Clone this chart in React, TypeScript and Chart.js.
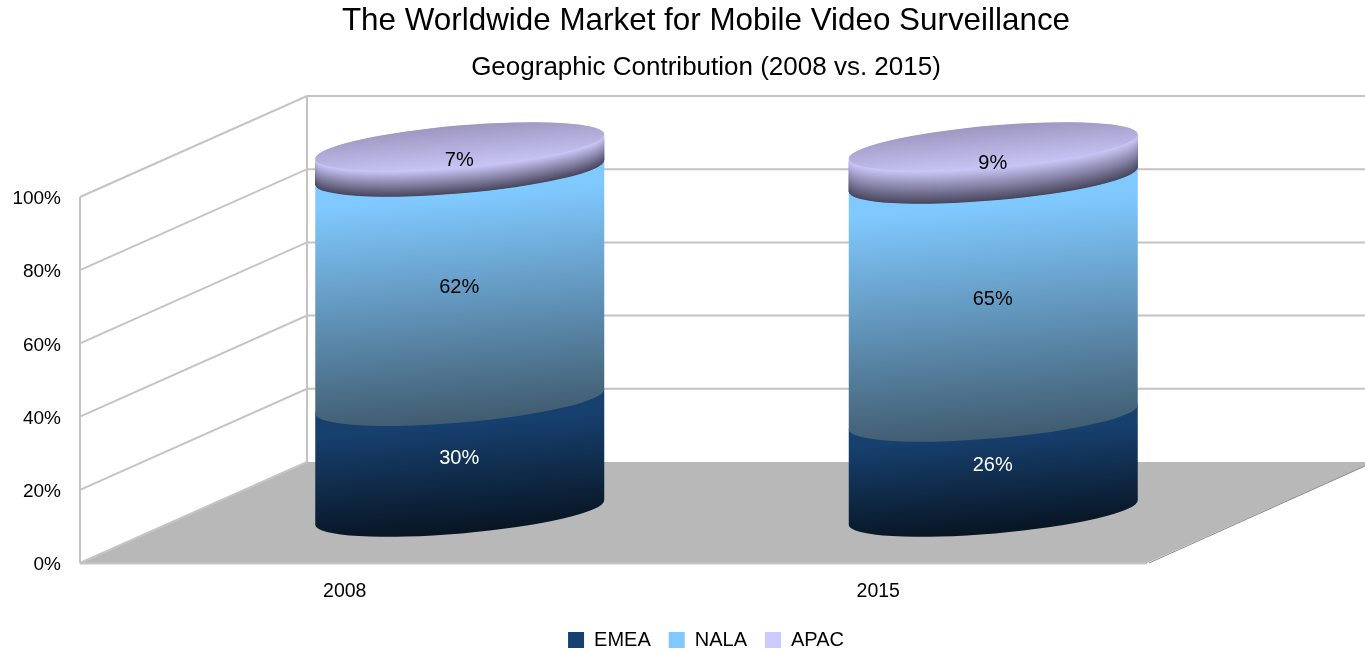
import React, { useEffect, useRef } from "react";
import { Chart, registerables } from "chart.js";

Chart.register(...registerables);

const categories = ["2008", "2015"];
const emea = [30, 26];
const nala = [62, 65];
const apac = [7, 9];
const tickValues = [0, 20, 40, 60, 80, 100];
const seriesNames = ["EMEA", "NALA", "APAC"];
const legendColors = ["#17406f", "#80c8ff", "#cccaff"];
const titleText = "The Worldwide Market for Mobile Video Surveillance";
const subtitleText = "Geographic Contribution (2008 vs. 2015)";

const FONT = "'Liberation Sans', Arial, sans-serif";
const DEPTH_X = 227;
const DEPTH_Y = -101;
const TILT = 0.086;
const RADIUS_MINOR = 21;
const GRID = "#c4c4c4";
const FLOOR = "#b8b8b8";

const segmentStops: [number, string][][] = [
  [[0, "#17406f"], [0.29, "#17406f"], [1, "#07131f"]],
  [[0, "#80c9ff"], [0.17, "#80c9ff"], [1, "#3f596c"]],
];
const capBack = "#9a93bd";
const capFront = [203, 200, 249];
const capSideDark = [74, 71, 94];
const labelColors = ["#ffffff", "#000000", "#000000"];
const rawSeries = [emea, nala, apac];

// The chart is a 100% stack: each column is shown as its share of the column total.
const shareOf = (series: number[]) =>
  series.map((v, i) => (v / (emea[i] + nala[i] + apac[i])) * 100);

const depthScene = {
  id: "depthScene",
  afterLayout(chart: any) {
    // let the value-axis labels overhang the narrow axis box instead of being clipped
    chart.scales.y.left = 0;
  },
  beforeDatasetsDraw(chart: any) {
    const { ctx, chartArea, scales } = chart;
    const { left, right, bottom } = chartArea;
    const y = scales.y;
    ctx.save();
    // floor
    ctx.fillStyle = FLOOR;
    ctx.beginPath();
    ctx.moveTo(left, bottom);
    ctx.lineTo(right, bottom);
    ctx.lineTo(right + DEPTH_X, bottom + DEPTH_Y);
    ctx.lineTo(left + DEPTH_X, bottom + DEPTH_Y);
    ctx.closePath();
    ctx.fill();
    // floor right edge
    ctx.strokeStyle = "#8a8a8a";
    ctx.lineWidth = 1;
    ctx.beginPath();
    ctx.moveTo(right + 2, bottom);
    ctx.lineTo(right + DEPTH_X, bottom + DEPTH_Y);
    ctx.stroke();
    // walls
    ctx.strokeStyle = GRID;
    ctx.lineWidth = 2;
    ctx.beginPath();
    ctx.moveTo(left, y.getPixelForValue(0));
    ctx.lineTo(left, y.getPixelForValue(100));
    ctx.moveTo(left + DEPTH_X, y.getPixelForValue(0) + DEPTH_Y);
    ctx.lineTo(left + DEPTH_X, y.getPixelForValue(100) + DEPTH_Y);
    ctx.moveTo(left, bottom + 0.5);
    ctx.lineTo(right, bottom + 0.5);
    ctx.stroke();
    for (const v of tickValues) {
      const py = y.getPixelForValue(v);
      ctx.beginPath();
      ctx.moveTo(left, py);
      ctx.lineTo(left + DEPTH_X, py + DEPTH_Y);
      if (v > 0) ctx.lineTo(right + DEPTH_X, py + DEPTH_Y);
      ctx.stroke();
    }
    // cylinders, bottom segment first so each upper one overlaps the lower
    chart.data.datasets.forEach((_: any, di: number) => {
      const meta = chart.getDatasetMeta(di);
      meta.data.forEach((bar: any) => {
        const cx = bar.x + DEPTH_X / 2 - 0.5;
        const a = bar.width / 2 / Math.cos(Math.atan(TILT));
        const rot = -Math.atan(TILT);
        const yTop = bar.y + DEPTH_Y / 2;
        const yBase = bar.base + DEPTH_Y / 2;
        const ext = 24.5;
        if (di === chart.data.datasets.length - 1) {
          // top segment: shading follows the curve of the rim, then a cap on top
          for (let cy = yBase; cy >= yTop; cy -= 0.5) {
            const t = (yBase - cy) / (yBase - yTop);
            const c = capSideDark.map((d, k) => Math.round(d + (capFront[k] - d) * t));
            ctx.fillStyle = `rgb(${c[0]},${c[1]},${c[2]})`;
            ctx.beginPath();
            ctx.ellipse(cx, cy, a, RADIUS_MINOR, rot, 0, 2 * Math.PI);
            ctx.fill();
          }
          const capG = ctx.createLinearGradient(cx, yTop - ext, cx + TILT * 2 * ext, yTop + ext);
          capG.addColorStop(0, capBack);
          capG.addColorStop(1, `rgb(${capFront[0]},${capFront[1]},${capFront[2]})`);
          ctx.fillStyle = capG;
          ctx.beginPath();
          ctx.ellipse(cx, yTop, a, RADIUS_MINOR, rot, 0, 2 * Math.PI);
          ctx.fill();
          return;
        }
        const y0 = yTop - ext;
        const len = yBase - yTop + 2 * ext;
        const g = ctx.createLinearGradient(cx, y0, cx + TILT * len, y0 + len);
        for (const [t, c] of segmentStops[di]) g.addColorStop(t, c);
        ctx.fillStyle = g;
        ctx.beginPath();
        ctx.ellipse(cx, yTop, a, RADIUS_MINOR, rot, Math.PI, 2 * Math.PI);
        ctx.ellipse(cx, yBase, a, RADIUS_MINOR, rot, 0, Math.PI);
        ctx.closePath();
        ctx.fill();
      });
    });
    // value labels
    ctx.font = `20px ${FONT}`;
    ctx.textAlign = "center";
    ctx.textBaseline = "middle";
    chart.data.datasets.forEach((_: any, di: number) => {
      const meta = chart.getDatasetMeta(di);
      meta.data.forEach((bar: any, i: number) => {
        ctx.fillStyle = labelColors[di];
        ctx.fillText(`${rawSeries[di][i]}%`, bar.x + DEPTH_X / 2 - 1, (bar.y + bar.base) / 2 + DEPTH_Y / 2 + 1);
      });
    });
    ctx.restore();
    return false;
  },
};

export default function App() {
  const ref = useRef<HTMLCanvasElement>(null);
  useEffect(() => {
    const chart = new Chart(ref.current as HTMLCanvasElement, {
      type: "bar",
      data: {
        labels: categories,
        datasets: rawSeries.map((d, i) => ({
          label: seriesNames[i],
          data: shareOf(d),
          backgroundColor: legendColors[i],
          barThickness: 289,
        })),
      },
      options: {
        animation: false,
        responsive: false,
        layout: { padding: { left: 47, right: 0, top: 0, bottom: -9 } },
        plugins: {
          title: {
            display: true,
            text: titleText,
            color: "#000",
            font: { family: FONT, size: 31.4, weight: "normal" },
            padding: { top: 3, bottom: 11.7 },
          },
          subtitle: {
            display: true,
            text: subtitleText,
            color: "#000",
            font: { family: FONT, size: 26, weight: "normal" },
            padding: { top: 0, bottom: 113.4 },
          },
          legend: {
            position: "bottom",
            labels: {
              boxWidth: 16,
              boxHeight: 16,
              padding: 18,
              color: "#000",
              font: { family: FONT, size: 20 },
            },
          },
          tooltip: { enabled: false },
        },
        scales: {
          x: {
            stacked: true,
            grid: { display: false },
            border: { display: false },
            ticks: { color: "#000", font: { family: FONT, size: 19.5 }, padding: 9, labelOffset: -2 },
            afterFit: (s: any) => { s.height = 49; },
          },
          y: {
            stacked: true,
            min: 0,
            max: 100,
            grid: { display: false },
            border: { display: false },
            afterFit: (s: any) => { s.width = 33; },
            afterBuildTicks: (s: any) => { s.ticks = tickValues.map((value) => ({ value })); },
            ticks: {
              color: "#000",
              font: { family: FONT, size: 19 },
              padding: 11,
              labelOffset: 2,
              callback: (v: any) => `${v}%`,
            },
          },
          rightSpace: {
            position: "right",
            display: true,
            grid: { display: false },
            border: { display: false },
            ticks: { display: false },
            afterFit: (s: any) => { s.width = 218; },
          },
        },
      } as any,
      plugins: [depthScene],
    });
    return () => chart.destroy();
  }, []);
  return (
    <div style={{ position: "absolute", left: 0, top: 0, width: 1365, height: 651, background: "#fff" }}>
      <canvas ref={ref} width={1365} height={651} style={{ display: "block" }} />
    </div>
  );
}
